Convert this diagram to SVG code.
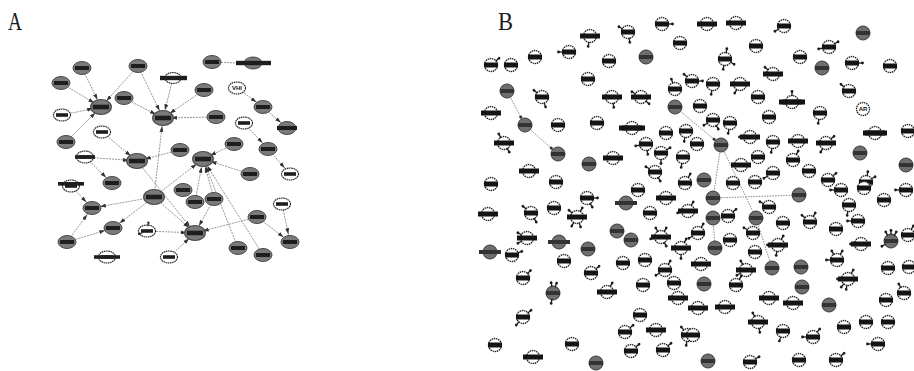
<svg xmlns="http://www.w3.org/2000/svg" xmlns:xlink="http://www.w3.org/1999/xlink" width="914" height="371" viewBox="0 0 914 371">
<style>
  .ttl{font-family:"Liberation Serif","DejaVu Serif",serif;font-size:26px;fill:#1a1a1a}
  .ag{fill:#7a7a7a;stroke:#4a4a4a;stroke-width:1}
  .aw{fill:#fff;stroke:#2a2a2a;stroke-width:1.2;stroke-dasharray:1.6 0.6}
  .lbA{fill:#1e1e1e}
  .bw{fill:#fff;stroke:#222;stroke-width:1.3;stroke-dasharray:1.5 0.7}
  .bg{fill:#6e6e6e;stroke:#3c3c3c;stroke-width:1}
  .lb{fill:#141414}
  .lbg{fill:#333}
  .st line{stroke:#1a1a1a;stroke-width:1.3}
  .st circle{fill:#1a1a1a}
  .ea{stroke:#8a8a8a;stroke-width:0.9;stroke-dasharray:2 1;fill:none}
  .eb{stroke:#777;stroke-width:0.9;stroke-dasharray:1.5 1.2;fill:none}
  .lt{font-family:"Liberation Sans","DejaVu Sans",sans-serif;font-weight:bold;fill:#111;text-anchor:middle}
</style>
<defs>
  <marker id="ah" viewBox="0 0 6 4" refX="14" refY="2" markerWidth="6" markerHeight="4" markerUnits="userSpaceOnUse" orient="auto">
    <path d="M0,0L6,2L0,4z" fill="#333"/>
  </marker>
  <marker id="ahb" viewBox="0 0 4 4" refX="11" refY="2" markerWidth="4" markerHeight="4" markerUnits="userSpaceOnUse" orient="auto">
    <circle cx="2" cy="2" r="1.5" fill="#333"/>
  </marker>
  <!-- panel A node shapes -->
  <g id="ga"><ellipse rx="9" ry="6.5" class="ag"/><rect x="-7" y="-2" width="14" height="4" class="lbA"/></g>
  <g id="wa"><ellipse rx="8.5" ry="6" class="aw"/><rect x="-6" y="-1.8" width="12" height="3.6" class="lbA"/></g>
  <!-- panel B node shapes -->
  <g id="w"><circle r="6.5" class="bw"/><rect x="-7" y="-2.5" width="14" height="5" class="lb"/></g>
  <g id="ww"><circle r="6.5" class="bw"/><rect x="-10" y="-2.5" width="20" height="5" class="lb"/></g>
  <g id="g"><circle r="7" class="bg"/><rect x="-7" y="-2" width="14" height="4" class="lbg"/></g>
  <g id="gw"><circle r="7" class="bg"/><rect x="-11" y="-2" width="22" height="4" class="lbg"/></g>
  <!-- short side branch on a node -->
  <g id="s" class="st"><line x1="6" y1="0" x2="10" y2="0"/><circle cx="10.5" cy="0" r="1.4"/></g>
</defs>

<rect width="914" height="371" fill="#fff"/>

<text class="ttl" x="8" y="30" textLength="14" lengthAdjust="spacingAndGlyphs">A</text>
<text class="ttl" x="498" y="30" textLength="15" lengthAdjust="spacingAndGlyphs">B</text>

<g id="connectors">
  <!-- panel A -->
  <line class="ea" marker-end="url(#ah)" x1="82" y1="68" x2="101" y2="107"/>
  <line class="ea" marker-end="url(#ah)" x1="61" y1="83" x2="101" y2="107"/>
  <line class="ea" marker-end="url(#ah)" x1="62" y1="115" x2="101" y2="107"/>
  <line class="ea" marker-end="url(#ah)" x1="66" y1="142" x2="101" y2="107"/>
  <line class="ea" marker-end="url(#ah)" x1="138" y1="66" x2="101" y2="107"/>
  <line class="ea" marker-end="url(#ah)" x1="138" y1="66" x2="163" y2="118"/>
  <line class="ea" marker-end="url(#ah)" x1="124" y1="98" x2="163" y2="118"/>
  <line class="ea" marker-end="url(#ah)" x1="173" y1="78" x2="163" y2="118"/>
  <line class="ea" marker-end="url(#ah)" x1="204" y1="90" x2="163" y2="118"/>
  <line class="ea" marker-end="url(#ah)" x1="216" y1="117" x2="163" y2="118"/>
  <line class="ea" marker-end="url(#ah)" x1="154" y1="197" x2="163" y2="118"/>
  <line class="ea" marker-end="url(#ah)" x1="102" y1="132" x2="137" y2="161"/>
  <line class="ea" marker-end="url(#ah)" x1="85" y1="157" x2="137" y2="161"/>
  <line class="ea" marker-end="url(#ah)" x1="180" y1="150" x2="137" y2="161"/>
  <line class="ea" marker-end="url(#ah)" x1="137" y1="161" x2="195" y2="233"/>
  <line class="ea" marker-end="url(#ah)" x1="234" y1="144" x2="203" y2="159"/>
  <line class="ea" marker-end="url(#ah)" x1="250" y1="174" x2="203" y2="159"/>
  <line class="ea" marker-end="url(#ah)" x1="154" y1="197" x2="203" y2="159"/>
  <line class="ea" marker-end="url(#ah)" x1="195" y1="202" x2="203" y2="159"/>
  <line class="ea" marker-end="url(#ah)" x1="214" y1="199" x2="203" y2="159"/>
  <line class="ea" marker-end="url(#ah)" x1="238" y1="248" x2="203" y2="159"/>
  <line class="ea" marker-end="url(#ah)" x1="263" y1="255" x2="203" y2="159"/>
  <line class="ea" marker-end="url(#ah)" x1="85" y1="157" x2="112" y2="183"/>
  <line class="ea" marker-end="url(#ah)" x1="71" y1="186" x2="92" y2="208"/>
  <line class="ea" marker-end="url(#ah)" x1="154" y1="197" x2="92" y2="208"/>
  <line class="ea" marker-end="url(#ah)" x1="67" y1="242" x2="92" y2="208"/>
  <line class="ea" marker-end="url(#ah)" x1="154" y1="197" x2="113" y2="228"/>
  <line class="ea" marker-end="url(#ah)" x1="67" y1="242" x2="113" y2="228"/>
  <line class="ea" marker-end="url(#ah)" x1="154" y1="197" x2="195" y2="233"/>
  <line class="ea" marker-end="url(#ah)" x1="147" y1="231" x2="195" y2="233"/>
  <line class="ea" marker-end="url(#ah)" x1="214" y1="199" x2="195" y2="233"/>
  <line class="ea" marker-end="url(#ah)" x1="257" y1="217" x2="195" y2="233"/>
  <line class="ea" marker-end="url(#ah)" x1="169" y1="257" x2="195" y2="233"/>
  <line class="ea" marker-end="url(#ah)" x1="257" y1="217" x2="290" y2="242"/>
  <line class="ea" marker-end="url(#ah)" x1="282" y1="204" x2="290" y2="242"/>
  <line class="ea" marker-end="url(#ah)" x1="237" y1="88" x2="263" y2="107"/>
  <line class="ea" marker-end="url(#ah)" x1="263" y1="107" x2="287" y2="128"/>
  <line class="ea" marker-end="url(#ah)" x1="244" y1="123" x2="268" y2="149"/>
  <line class="ea" marker-end="url(#ah)" x1="268" y1="149" x2="290" y2="174"/>
  <line class="ea" x1="212" y1="62" x2="240" y2="63"/>
  <!-- panel B -->
  <line class="eb" marker-end="url(#ahb)" x1="507" y1="91" x2="525" y2="125"/>
  <line class="eb" marker-end="url(#ahb)" x1="525" y1="125" x2="558" y2="154"/>
  <line class="eb" marker-end="url(#ahb)" x1="675" y1="107" x2="721" y2="145"/>
  <line class="eb" x1="721" y1="145" x2="713" y2="198"/>
  <line class="eb" x1="721" y1="145" x2="756" y2="218"/>
  <line class="eb" x1="713" y1="198" x2="799" y2="195"/>
  <line class="eb" x1="713" y1="218" x2="715" y2="248"/>
  <line class="eb" x1="756" y1="218" x2="772" y2="268"/>
</g>

<g id="panelA-nodes">
  <g id="a1" transform="translate(82 68)"><use href="#ga"/></g>
  <g id="a2" transform="translate(138 66)"><use href="#ga"/></g>
  <g id="a3" transform="translate(212 62)"><use href="#ga"/></g>
  <g id="a4" transform="translate(253 63)"><ellipse rx="9" ry="6" class="ag"/><rect x="-17" y="-2.2" width="35" height="4.4" class="lbA"/></g>
  <g id="a5" transform="translate(173 78)"><ellipse rx="8" ry="5.5" class="aw"/><rect x="-13" y="-2.2" width="27" height="4.4" class="lbA"/></g>
  <g id="a6" transform="translate(61 83)"><use href="#ga"/></g>
  <g id="a7" transform="translate(204 90)"><use href="#ga"/></g>
  <g id="a8" transform="translate(237 88)"><ellipse rx="8.5" ry="6" class="aw"/><text class="lt" y="2" font-size="6">VHI</text></g>
  <g id="a9" transform="translate(124 98)"><use href="#ga"/></g>
  <g id="a10" transform="translate(101 107) scale(1.15)"><use href="#ga"/></g>
  <g id="a11" transform="translate(62 115)"><use href="#wa"/></g>
  <g id="a12" transform="translate(263 107)"><use href="#ga"/></g>
  <g id="a13" transform="translate(163 118) scale(1.15)"><use href="#ga"/></g>
  <g id="a14" transform="translate(216 117)"><use href="#ga"/></g>
  <g id="a15" transform="translate(244 123)"><use href="#wa"/></g>
  <g id="a16" transform="translate(287 128)"><use href="#ga"/><rect x="-10" y="-2" width="20" height="4" class="lbA"/></g>
  <g id="a17" transform="translate(102 132)"><use href="#wa"/></g>
  <g id="a18" transform="translate(66 142)"><use href="#ga"/></g>
  <g id="a19" transform="translate(180 150)"><use href="#ga"/></g>
  <g id="a20" transform="translate(234 144)"><use href="#ga"/></g>
  <g id="a21" transform="translate(268 149)"><use href="#ga"/></g>
  <g id="a22" transform="translate(85 157)"><use href="#wa"/><rect x="-10" y="-1.8" width="20" height="3.6" class="lbA"/></g>
  <g id="a23" transform="translate(137 161) scale(1.15)"><use href="#ga"/></g>
  <g id="a24" transform="translate(203 159) scale(1.15)"><use href="#ga"/></g>
  <g id="a25" transform="translate(250 174)"><use href="#ga"/></g>
  <g id="a26" transform="translate(290 174)"><use href="#wa"/></g>
  <g id="a27" transform="translate(112 183)"><use href="#ga"/></g>
  <g id="a28" transform="translate(71 186)"><use href="#wa"/><rect x="-13" y="-4" width="26" height="3.6" class="lbA"/></g>
  <g id="a29" transform="translate(183 190)"><use href="#ga"/></g>
  <g id="a30" transform="translate(154 197) scale(1.15)"><use href="#ga"/></g>
  <g id="a31" transform="translate(195 202)"><use href="#ga"/></g>
  <g id="a32" transform="translate(214 199)"><use href="#ga"/></g>
  <g id="a33" transform="translate(92 208)"><use href="#ga"/></g>
  <g id="a34" transform="translate(282 204)"><use href="#wa"/></g>
  <g id="a35" transform="translate(257 217)"><use href="#ga"/></g>
  <g id="a36" transform="translate(113 228)"><use href="#ga"/></g>
  <g id="a37" transform="translate(147 231)"><use href="#wa"/><use href="#s" transform="rotate(-80) scale(0.8)"/><use href="#s" transform="rotate(160) scale(0.8)"/></g>
  <g id="a38" transform="translate(195 233) scale(1.15)"><use href="#ga"/></g>
  <g id="a39" transform="translate(67 242)"><use href="#ga"/></g>
  <g id="a40" transform="translate(290 242)"><use href="#ga"/></g>
  <g id="a41" transform="translate(238 248)"><use href="#ga"/></g>
  <g id="a42" transform="translate(263 255)"><use href="#ga"/></g>
  <g id="a43" transform="translate(107 257)"><use href="#wa"/><rect x="-13" y="-1.8" width="26" height="3.6" class="lbA"/></g>
  <g id="a44" transform="translate(169 257)"><use href="#wa"/></g>
</g>

<g id="panelB-nodes">
  <g id="b1" transform="translate(590 36)"><use href="#ww"/><use href="#s" transform="rotate(100)"/></g>
  <g id="b2" transform="translate(569 52)"><use href="#w"/><use href="#s" transform="rotate(180)"/></g>
  <g id="b3" transform="translate(535 57)"><use href="#w"/></g>
  <g id="b4" transform="translate(491 65)"><use href="#w"/><use href="#s" transform="rotate(-40)"/></g>
  <g id="b5" transform="translate(511 65)"><use href="#w"/></g>
  <g id="b6" transform="translate(609 61)"><use href="#w"/></g>
  <g id="b7" transform="translate(588 79)"><use href="#w"/></g>
  <g id="b8" transform="translate(507 91)"><use href="#g"/></g>
  <g id="b9" transform="translate(542 97)"><use href="#w"/><use href="#s" transform="rotate(-140)"/><use href="#s" transform="rotate(70)"/></g>
  <g id="b10" transform="translate(612 97)"><use href="#ww"/><use href="#s" transform="rotate(80)"/></g>
  <g id="b11" transform="translate(491 113)"><use href="#ww"/></g>
  <g id="b12" transform="translate(525 125)"><use href="#g"/></g>
  <g id="b13" transform="translate(558 125)"><use href="#w"/></g>
  <g id="b14" transform="translate(597 123)"><use href="#w"/></g>
  <g id="b15" transform="translate(504 143)"><use href="#ww"/><use href="#s" transform="rotate(-120)"/><use href="#s" transform="rotate(60)"/></g>
  <g id="b16" transform="translate(558 154)"><use href="#g"/></g>
  <g id="b17" transform="translate(589 164)"><use href="#g"/></g>
  <g id="b18" transform="translate(613 158)"><use href="#ww"/></g>
  <g id="b19" transform="translate(529 171)"><use href="#ww"/></g>
  <g id="b20" transform="translate(491 184)"><use href="#w"/></g>
  <g id="b21" transform="translate(556 182)"><use href="#w"/></g>
  <g id="b22" transform="translate(628 32)"><use href="#w"/><use href="#s" transform="rotate(-150)"/><use href="#s" transform="rotate(80)"/></g>
  <g id="b23" transform="translate(662 24)"><use href="#w"/><use href="#s" transform="rotate(0)"/></g>
  <g id="b24" transform="translate(707 24)"><use href="#ww"/></g>
  <g id="b25" transform="translate(736 23)"><use href="#ww"/></g>
  <g id="b26" transform="translate(680 43)"><use href="#w"/></g>
  <g id="b27" transform="translate(646 57)"><use href="#g"/></g>
  <g id="b28" transform="translate(756 46)"><use href="#w"/></g>
  <g id="b29" transform="translate(725 59)"><use href="#w"/><use href="#s" transform="rotate(-80)"/><use href="#s" transform="rotate(30)"/><use href="#s" transform="rotate(100)"/></g>
  <g id="b30" transform="translate(692 81)"><use href="#w"/><use href="#s" transform="rotate(-140)"/><use href="#s" transform="rotate(0)"/></g>
  <g id="b31" transform="translate(713 84)"><use href="#w"/><use href="#s" transform="rotate(100)"/></g>
  <g id="b32" transform="translate(740 84)"><use href="#ww"/><use href="#s" transform="rotate(120)"/></g>
  <g id="b33" transform="translate(675 89)"><use href="#w"/><use href="#s" transform="rotate(-110)"/></g>
  <g id="b34" transform="translate(641 97)"><use href="#ww"/><use href="#s" transform="rotate(-150)"/><use href="#s" transform="rotate(40)"/></g>
  <g id="b35" transform="translate(758 97)"><use href="#w"/></g>
  <g id="b36" transform="translate(675 107)"><use href="#g"/></g>
  <g id="b37" transform="translate(700 106)"><use href="#w"/></g>
  <g id="b38" transform="translate(713 120)"><use href="#w"/><use href="#s" transform="rotate(150)"/><use href="#s" transform="rotate(60)"/></g>
  <g id="b39" transform="translate(730 123)"><use href="#w"/><use href="#s" transform="rotate(100)"/></g>
  <g id="b40" transform="translate(632 128)"><use href="#ww"/><rect x="-13" y="-2.5" width="26" height="5" class="lb"/></g>
  <g id="b41" transform="translate(666 133)"><use href="#w"/></g>
  <g id="b42" transform="translate(686 131)"><use href="#w"/><use href="#s" transform="rotate(100)"/></g>
  <g id="b43" transform="translate(697 144)"><use href="#w"/></g>
  <g id="b44" transform="translate(721 145)"><use href="#g"/></g>
  <g id="b45" transform="translate(646 144)"><use href="#w"/><use href="#s" transform="rotate(170)"/><use href="#s" transform="rotate(80)"/></g>
  <g id="b46" transform="translate(661 153)"><use href="#w"/><use href="#s" transform="rotate(-30)"/><use href="#s" transform="rotate(90)"/></g>
  <g id="b47" transform="translate(683 157)"><use href="#w"/><use href="#s" transform="rotate(100)"/></g>
  <g id="b48" transform="translate(750 137)"><use href="#ww"/><use href="#s" transform="rotate(180)"/></g>
  <g id="b49" transform="translate(758 157)"><use href="#w"/></g>
  <g id="b50" transform="translate(655 172)"><use href="#w"/><use href="#s" transform="rotate(-150)"/><use href="#s" transform="rotate(60)"/></g>
  <g id="b51" transform="translate(741 165)"><use href="#ww"/></g>
  <g id="b52" transform="translate(704 180)"><use href="#g"/></g>
  <g id="b53" transform="translate(685 183)"><use href="#w"/><use href="#s" transform="rotate(-60)"/></g>
  <g id="b54" transform="translate(733 183)"><use href="#w"/></g>
  <g id="b55" transform="translate(755 182)"><use href="#w"/></g>
  <g id="b56" transform="translate(784 26)"><use href="#w"/><use href="#s" transform="rotate(150)"/></g>
  <g id="b57" transform="translate(863 33)"><use href="#g"/></g>
  <g id="b58" transform="translate(829 47)"><use href="#w"/><use href="#s" transform="rotate(-30)"/><use href="#s" transform="rotate(170)"/></g>
  <g id="b59" transform="translate(800 57)"><use href="#w"/></g>
  <g id="b60" transform="translate(822 68)"><use href="#g"/></g>
  <g id="b61" transform="translate(852 63)"><use href="#w"/><use href="#s" transform="rotate(0)"/></g>
  <g id="b62" transform="translate(890 66)"><use href="#w"/></g>
  <g id="b63" transform="translate(773 74)"><use href="#ww"/><use href="#s" transform="rotate(-140)"/></g>
  <g id="b64" transform="translate(849 91)"><use href="#w"/><use href="#s" transform="rotate(-140)"/></g>
  <g id="b65" transform="translate(792 102)"><use href="#ww"/><rect x="-13" y="-2.5" width="26" height="5" class="lb"/><use href="#s" transform="rotate(-90)"/></g>
  <g id="b66" transform="translate(820 113)"><use href="#w"/><use href="#s" transform="rotate(100)"/></g>
  <g id="b67" transform="translate(863 109)"><circle r="6.5" class="bw"/><text class="lt" y="2" font-size="6">AR</text></g>
  <g id="b68" transform="translate(769 117)"><use href="#w"/></g>
  <g id="b69" transform="translate(875 133)"><use href="#ww"/><rect x="-12" y="-2.5" width="24" height="5" class="lb"/></g>
  <g id="b70" transform="translate(908 131)"><use href="#w"/></g>
  <g id="b71" transform="translate(773 142)"><use href="#w"/><use href="#s" transform="rotate(100)"/></g>
  <g id="b72" transform="translate(798 141)"><use href="#ww"/></g>
  <g id="b73" transform="translate(826 143)"><use href="#ww"/><use href="#s" transform="rotate(-40)"/><use href="#s" transform="rotate(120)"/></g>
  <g id="b74" transform="translate(860 153)"><use href="#g"/></g>
  <g id="b75" transform="translate(906 165)"><use href="#g"/></g>
  <g id="b76" transform="translate(793 160)"><use href="#w"/><use href="#s" transform="rotate(-60)"/></g>
  <g id="b77" transform="translate(809 171)"><use href="#w"/></g>
  <g id="b78" transform="translate(773 173)"><use href="#w"/><use href="#s" transform="rotate(150)"/></g>
  <g id="b79" transform="translate(828 180)"><use href="#w"/><use href="#s" transform="rotate(-40)"/></g>
  <g id="b80" transform="translate(866 182)"><use href="#w"/><use href="#s" transform="rotate(-80)"/><use href="#s" transform="rotate(-30)"/></g>
  <g id="b81" transform="translate(587 198)"><use href="#w"/><use href="#s" transform="rotate(0)"/><use href="#s" transform="rotate(60)"/></g>
  <g id="b82" transform="translate(488 214)"><use href="#ww"/></g>
  <g id="b83" transform="translate(531 213)"><use href="#w"/><use href="#s" transform="rotate(-140)"/><use href="#s" transform="rotate(60)"/></g>
  <g id="b84" transform="translate(554 208)"><use href="#w"/></g>
  <g id="b85" transform="translate(577 217)"><use href="#ww"/><use href="#s" transform="rotate(-140)"/><use href="#s" transform="rotate(-60)"/><use href="#s" transform="rotate(70)"/><use href="#s" transform="rotate(120)"/></g>
  <g id="b86" transform="translate(617 231)"><use href="#g"/></g>
  <g id="b87" transform="translate(527 238)"><use href="#ww"/><use href="#s" transform="rotate(-150)"/><use href="#s" transform="rotate(150)"/></g>
  <g id="b88" transform="translate(559 242)"><use href="#gw"/></g>
  <g id="b89" transform="translate(588 249)"><use href="#g"/></g>
  <g id="b90" transform="translate(490 252)"><use href="#gw"/></g>
  <g id="b91" transform="translate(512 255)"><use href="#w"/><use href="#s" transform="rotate(-20)"/></g>
  <g id="b92" transform="translate(564 261)"><use href="#w"/></g>
  <g id="b93" transform="translate(591 273)"><use href="#w"/><use href="#s" transform="rotate(-40)"/></g>
  <g id="b94" transform="translate(523 278)"><use href="#w"/><use href="#s" transform="rotate(-45)"/></g>
  <g id="b95" transform="translate(553 293)"><use href="#g"/><use href="#s" transform="rotate(-100)"/><use href="#s" transform="rotate(-70)"/><use href="#s" transform="rotate(100)"/></g>
  <g id="b96" transform="translate(607 292)"><use href="#ww"/><use href="#s" transform="rotate(-60)"/></g>
  <g id="b97" transform="translate(523 317)"><use href="#w"/><use href="#s" transform="rotate(-40)"/><use href="#s" transform="rotate(130)"/></g>
  <g id="b98" transform="translate(495 345)"><use href="#w"/></g>
  <g id="b99" transform="translate(572 344)"><use href="#w"/></g>
  <g id="b100" transform="translate(533 357)"><use href="#ww"/></g>
  <g id="b101" transform="translate(596 363)"><use href="#g"/></g>
  <g id="b102" transform="translate(638 190)"><use href="#w"/></g>
  <g id="b103" transform="translate(666 198)"><use href="#ww"/></g>
  <g id="b104" transform="translate(713 198)"><use href="#g"/></g>
  <g id="b105" transform="translate(626 203)"><use href="#gw"/></g>
  <g id="b106" transform="translate(650 213)"><use href="#w"/></g>
  <g id="b107" transform="translate(688 211)"><use href="#ww"/><use href="#s" transform="rotate(-60)"/><use href="#s" transform="rotate(170)"/></g>
  <g id="b108" transform="translate(713 218)"><use href="#g"/></g>
  <g id="b109" transform="translate(728 216)"><use href="#w"/><use href="#s" transform="rotate(-40)"/></g>
  <g id="b110" transform="translate(756 218)"><use href="#g"/></g>
  <g id="b111" transform="translate(631 240)"><use href="#g"/></g>
  <g id="b112" transform="translate(661 237)"><use href="#ww"/><use href="#s" transform="rotate(-60)"/><use href="#s" transform="rotate(-120)"/><use href="#s" transform="rotate(170)"/><use href="#s" transform="rotate(60)"/></g>
  <g id="b113" transform="translate(698 233)"><use href="#w"/><use href="#s" transform="rotate(-60)"/><use href="#s" transform="rotate(150)"/></g>
  <g id="b114" transform="translate(681 248)"><use href="#ww"/><use href="#s" transform="rotate(-60)"/><use href="#s" transform="rotate(90)"/></g>
  <g id="b115" transform="translate(715 248)"><use href="#g"/></g>
  <g id="b116" transform="translate(730 240)"><use href="#w"/></g>
  <g id="b117" transform="translate(753 233)"><use href="#w"/><use href="#s" transform="rotate(-150)"/></g>
  <g id="b118" transform="translate(755 252)"><use href="#w"/></g>
  <g id="b119" transform="translate(623 263)"><use href="#w"/></g>
  <g id="b120" transform="translate(645 260)"><use href="#w"/></g>
  <g id="b121" transform="translate(665 270)"><use href="#w"/><use href="#s" transform="rotate(-60)"/><use href="#s" transform="rotate(150)"/></g>
  <g id="b122" transform="translate(701 264)"><use href="#ww"/></g>
  <g id="b123" transform="translate(746 270)"><use href="#ww"/><use href="#s" transform="rotate(-120)"/><use href="#s" transform="rotate(150)"/></g>
  <g id="b124" transform="translate(772 268)"><use href="#g"/></g>
  <g id="b125" transform="translate(643 285)"><use href="#w"/></g>
  <g id="b126" transform="translate(674 283)"><use href="#w"/></g>
  <g id="b127" transform="translate(704 284)"><use href="#g"/></g>
  <g id="b128" transform="translate(736 285)"><use href="#w"/><use href="#s" transform="rotate(-60)"/></g>
  <g id="b129" transform="translate(678 298)"><use href="#ww"/></g>
  <g id="b130" transform="translate(698 308)"><use href="#ww"/></g>
  <g id="b131" transform="translate(725 307)"><use href="#ww"/></g>
  <g id="b132" transform="translate(640 315)"><use href="#w"/></g>
  <g id="b133" transform="translate(625 332)"><use href="#w"/><use href="#s" transform="rotate(-40)"/></g>
  <g id="b134" transform="translate(656 330)"><use href="#ww"/></g>
  <g id="b135" transform="translate(688 335)"><use href="#w"/><use href="#s" transform="rotate(-130)"/><use href="#s" transform="rotate(100)"/></g>
  <g id="b136" transform="translate(758 322)"><use href="#ww"/><use href="#s" transform="rotate(-120)"/><use href="#s" transform="rotate(80)"/></g>
  <g id="b137" transform="translate(631 351)"><use href="#w"/><use href="#s" transform="rotate(-40)"/></g>
  <g id="b138" transform="translate(663 350)"><use href="#w"/><use href="#s" transform="rotate(-40)"/></g>
  <g id="b139" transform="translate(708 361)"><use href="#g"/></g>
  <g id="b140" transform="translate(750 362)"><use href="#w"/><use href="#s" transform="rotate(-30)"/></g>
  <g id="b141" transform="translate(799 195)"><use href="#g"/></g>
  <g id="b142" transform="translate(841 190)"><use href="#w"/><use href="#s" transform="rotate(180)"/></g>
  <g id="b143" transform="translate(864 188)"><use href="#w"/></g>
  <g id="b144" transform="translate(906 190)"><use href="#w"/><use href="#s" transform="rotate(180)"/></g>
  <g id="b145" transform="translate(769 207)"><use href="#w"/><use href="#s" transform="rotate(-150)"/></g>
  <g id="b146" transform="translate(849 205)"><use href="#w"/><use href="#s" transform="rotate(100)"/></g>
  <g id="b147" transform="translate(884 200)"><use href="#w"/></g>
  <g id="b148" transform="translate(783 223)"><use href="#w"/></g>
  <g id="b149" transform="translate(810 222)"><use href="#w"/><use href="#s" transform="rotate(-140)"/><use href="#s" transform="rotate(-60)"/></g>
  <g id="b150" transform="translate(836 229)"><use href="#w"/></g>
  <g id="b151" transform="translate(858 221)"><use href="#w"/><use href="#s" transform="rotate(180)"/></g>
  <g id="b152" transform="translate(778 245)"><use href="#ww"/><use href="#s" transform="rotate(-60)"/><use href="#s" transform="rotate(100)"/><use href="#s" transform="rotate(180)"/></g>
  <g id="b153" transform="translate(861 244)"><use href="#ww"/><use href="#s" transform="rotate(180)"/></g>
  <g id="b154" transform="translate(891 241)"><use href="#g"/><use href="#s" transform="rotate(-90)"/><use href="#s" transform="rotate(-60)"/><use href="#s" transform="rotate(-120)"/><use href="#s" transform="rotate(150)"/></g>
  <g id="b155" transform="translate(908 235)"><use href="#w"/><use href="#s" transform="rotate(-60)"/></g>
  <g id="b156" transform="translate(801 267)"><use href="#g"/></g>
  <g id="b157" transform="translate(837 260)"><use href="#w"/><use href="#s" transform="rotate(-120)"/><use href="#s" transform="rotate(-60)"/><use href="#s" transform="rotate(180)"/></g>
  <g id="b158" transform="translate(848 279)"><use href="#ww"/><use href="#s" transform="rotate(-60)"/><use href="#s" transform="rotate(100)"/><use href="#s" transform="rotate(180)"/><use href="#s" transform="rotate(130)"/></g>
  <g id="b159" transform="translate(888 268)"><use href="#w"/></g>
  <g id="b160" transform="translate(909 267)"><use href="#w"/></g>
  <g id="b161" transform="translate(802 287)"><use href="#g"/></g>
  <g id="b162" transform="translate(769 298)"><use href="#ww"/></g>
  <g id="b163" transform="translate(793 303)"><use href="#ww"/></g>
  <g id="b164" transform="translate(829 305)"><use href="#g"/></g>
  <g id="b165" transform="translate(886 300)"><use href="#w"/></g>
  <g id="b166" transform="translate(904 293)"><use href="#w"/><use href="#s" transform="rotate(-120)"/></g>
  <g id="b167" transform="translate(783 331)"><use href="#w"/><use href="#s" transform="rotate(110)"/></g>
  <g id="b168" transform="translate(813 337)"><use href="#w"/><use href="#s" transform="rotate(-50)"/><use href="#s" transform="rotate(180)"/></g>
  <g id="b169" transform="translate(844 327)"><use href="#w"/></g>
  <g id="b170" transform="translate(866 322)"><use href="#w"/></g>
  <g id="b171" transform="translate(888 322)"><use href="#w"/></g>
  <g id="b172" transform="translate(878 344)"><use href="#w"/><use href="#s" transform="rotate(180)"/></g>
  <g id="b173" transform="translate(799 360)"><use href="#w"/></g>
  <g id="b174" transform="translate(836 360)"><use href="#w"/><use href="#s" transform="rotate(-40)"/></g>
  <g id="b175" transform="translate(693 335)"><use href="#w"/></g>
</g>
</svg>
